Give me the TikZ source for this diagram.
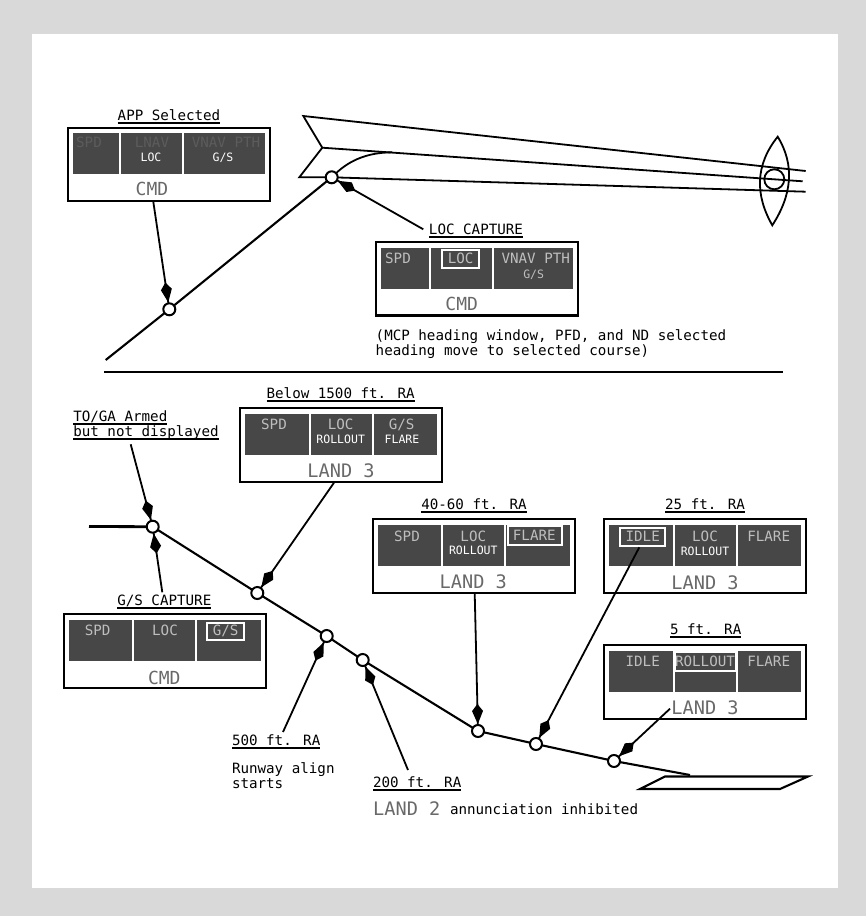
\documentclass[tikz,border=0pt]{standalone}
\usepackage{fontspec}
\setmainfont{DejaVu Sans Mono}
\usetikzlibrary{calc}
\definecolor{pagegray}{HTML}{D9D9D9}
\definecolor{panelgray}{HTML}{474747}
\definecolor{dimtext}{HTML}{5C5C5C}
\definecolor{softtext}{HTML}{BEBEBE}
\definecolor{modegray}{HTML}{696969}
\newcommand\ulbar[1]{\setbox0\hbox{#1}\rlap{\rule[-3.6pt]{\wd0}{1.8pt}}\copy0\relax}
\tikzset{
  x=1pt,y=-1pt,
  txt/.style={inner sep=0pt,outer sep=0pt,text height=10.2pt,text depth=0pt,font=\fontsize{14.2}{15}\selectfont},
  para/.style={inner sep=0pt,outer sep=0pt,anchor=north west,align=left,font=\fontsize{14.2}{15}\selectfont},
  lab/.style={txt,text=black},
  main/.style={txt,text=softtext},
  dimmed/.style={txt,text=dimtext},
  small/.style={inner sep=0pt,text height=8.4pt,text depth=0pt,font=\fontsize{11.5}{13}\selectfont,text=white},
  mode/.style={inner sep=0pt,text height=13.4pt,text depth=0pt,font=\fontsize{18.6}{20}\selectfont,text=modegray},
  outerbox/.style={draw=black,line width=2.2pt,minimum width=202pt,minimum height=73.5pt,inner sep=0pt},
  hilite/.style={draw=white,line width=1.7pt},
  wp/.style={circle,draw=black,fill=white,line width=2pt,minimum size=12pt,inner sep=0pt,outer sep=0pt},
  leader/.style={draw=black,line width=1.8pt},
  path line/.style={draw=black,line width=2.1pt},
  thin line/.style={draw=black,line width=1.8pt}
}
% name, left, top, divider 1, divider 2
\newcommand\fmabox[5]{%
  \node[outerbox] (#1) at ({#2+101},{#3+36.75}) {};
  \fill[panelgray] ({#2+5},{#3+5.5}) rectangle ({#4-1},{#3+46.5});
  \fill[panelgray] ({#4+1},{#3+5.5}) rectangle ({#5-1},{#3+46.5});
  \fill[panelgray] ({#5+1},{#3+5.5}) rectangle ({#2+197},{#3+46.5});
}
% leader from a named start to a waypoint node, with a kite-shaped head touching the waypoint
\newcommand\leaderline[2]{%
  \draw[leader] (#1) -- (#2);
  \coordinate (kw) at ($(#2.center)!20pt!(#1)$);
  \fill[black] ($(#2.center)!7pt!(#1)$) -- ($(kw)!5.5pt!90:(#2.center)$) -- ($(#2.center)!27pt!(#1)$) -- ($(kw)!5.5pt!-90:(#2.center)$) -- cycle;
}
\begin{document}
\begin{tikzpicture}
\useasboundingbox (0,0) rectangle (866,916);
\fill[pagegray] (0,0) rectangle (866,916);
\fill[white] (32,34) rectangle (838,888);

% --- approach geometry ---
\coordinate (wingA) at (303.3,116);
\coordinate (wingB) at (322.3,147.7);
\coordinate (wingC) at (299.3,177.3);
\coordinate (topEnd) at (805.7,171);
\coordinate (midEnd) at (802.7,181.3);
\coordinate (lowEnd) at (805.7,191.7);
\coordinate (curveEnd) at (392,152.3);
\coordinate (appStart) at (105.7,360);
\node[wp] (appPt) at (169.3,309.3) {};
\node[wp] (locPt) at (331.7,177.3) {};
\draw[thin line] (locPt) -- (wingC) -- (wingB) -- (wingA) -- (topEnd);
\draw[thin line] (wingB) -- (midEnd);
\draw[thin line] (locPt) -- (lowEnd);
\draw[thin line] (locPt) .. controls (350,160) and (368,152.5) .. (curveEnd);
\draw[thin line] (777.7,136.7) .. controls (795,165) and (792,195) .. (772.3,225.3)
                 .. controls (755,195) and (755,165) .. cycle;
\node[circle,draw=black,line width=1.8pt,minimum size=20pt,inner sep=0pt] (eye) at (774.3,179.3) {};
\draw[path line] (appStart) -- (appPt) -- (locPt);
\draw[path line] (104.3,372) -- (782.7,372);

% --- APP Selected ---
\node[lab] (lblApp) at (169,115) {\ulbar{APP Selected}};
\fmabox{boxApp}{68}{127.7}{120}{183.3}
\node[dimmed] at (89,142) {SPD};
\node[dimmed] at (152,142) {LNAV};
\node[dimmed] at (226,142) {VNAV PTH};
\node[small] at (151,157) {LOC};
\node[small] at (223,157) {G/S};
\node[mode,font=\fontsize{18}{20}\selectfont] at (152,189) {CMD};

% --- LOC CAPTURE ---
\node[lab] (lblLoc) at (476,229.3) {\ulbar{LOC CAPTURE}};
\fmabox{boxLoc}{375.7}{242}{430}{493}
\node[main] at (398,258) {SPD};
\node[main] at (460.7,258) {LOC};
\draw[hilite] (441.7,249.7) rectangle (479.3,268.3);
\node[main] at (535.7,258) {VNAV PTH};
\node[small,text=softtext] at (533.7,274) {G/S};
\node[mode,font=\fontsize{18}{20}\selectfont] at (461.7,304) {CMD};
\node[para] (note) at (375.7,330)
  {(MCP heading window, PFD, and ND selected\\heading move to selected course)};

% --- lower path ---
\coordinate (glideStart) at (89,526.5);
\coordinate (flareEnd) at (690,775);
\node[wp] (gsPt) at (152.7,526.7) {};
\node[wp] (p1500) at (257.3,593) {};
\node[wp] (p500) at (326.7,636) {};
\node[wp] (p200) at (362.7,660) {};
\node[wp] (p50) at (478,731) {};
\node[wp] (p25) at (536,744) {};
\node[wp] (p5) at (614,761) {};
\draw[draw=black,line width=2.8pt] (glideStart) -- (gsPt);
\draw[path line] (gsPt) -- (p1500) -- (p500) -- (p200) -- (p50) -- (p25) -- (p5) -- (flareEnd);
\draw[draw=black,line width=2.1pt] (640,789) -- (665,776.5) -- (808,776.5) -- (780,789) -- cycle;

% --- TO/GA ---
\node[para] (lblToga) at (73.3,410.5)
  {\ulbar{TO/GA Armed}\\\ulbar{but not displayed}};

% --- Below 1500 ---
\node[lab] (lbl1500) at (340.7,393) {\ulbar{Below 1500 ft. RA}};
\fmabox{box1500}{240}{408.3}{310}{373}
\node[main] at (274,424) {SPD};
\node[main] at (340.7,424) {LOC};
\node[main] at (401.7,424) {G/S};
\node[small] at (340.7,439) {ROLLOUT};
\node[small] at (402,439) {FLARE};
\node[mode] at (341,470.7) {LAND 3};

% --- G/S CAPTURE ---
\node[lab] (lblGs) at (164.3,600.5) {\ulbar{G/S CAPTURE}};
\fmabox{boxGs}{64}{614.3}{132.7}{196}
\node[main] at (97.7,630) {SPD};
\node[main] at (165,630) {LOC};
\node[main] at (225.7,630) {G/S};
\draw[hilite] (206.7,622.7) rectangle (244.3,640);
\node[mode,font=\fontsize{18}{20}\selectfont] at (164.3,677.7) {CMD};

% --- 40-60 ---
\node[lab] (lbl50) at (474,504.3) {\ulbar{40-60 ft. RA}};
\fmabox{box50}{372.7}{519.3}{442}{505}
\node[main] at (407,536) {SPD};
\node[main] at (473.3,536) {LOC};
\node[main] at (534.3,535) {FLARE};
\draw[hilite] (508.3,526) rectangle (561.7,545);
\node[small] at (473.3,550) {ROLLOUT};
\node[mode] at (473.3,582) {LAND 3};

% --- 25 ---
\node[lab] (lbl25) at (705,504.3) {\ulbar{25 ft. RA}};
\fmabox{box25}{604}{519.3}{674}{737}
\node[main] at (642.7,536) {IDLE};
\draw[hilite] (620,527.7) rectangle (665,546);
\node[main] at (705,536) {LOC};
\node[main] at (768.7,536) {FLARE};
\node[small] at (705,551) {ROLLOUT};
\node[mode] at (705,582.3) {LAND 3};

% --- 5 ---
\node[lab] (lbl5) at (705.7,629) {\ulbar{5 ft. RA}};
\fmabox{box5}{604}{645.3}{674}{737}
\node[main] at (642.7,661) {IDLE};
\node[main] at (705,661) {ROLLOUT};
\draw[hilite] (675,651.7) rectangle (736,671);
\node[main] at (768.7,661) {FLARE};
\node[mode] (land5) at (705,707.3) {LAND 3};

% --- free-standing labels ---
\node[lab,anchor=west] (lbl500) at (232,740) {\ulbar{500 ft. RA}};
\node[para] (runway) at (232,763) {Runway align\\starts};
\node[lab,anchor=west] (lbl200) at (373,782) {\ulbar{200 ft. RA}};
\node[mode,anchor=west] (land2) at (373,809) {LAND 2};
\node[lab,anchor=west] (inhib) at (450,809) {annunciation inhibited};

% --- leaders ---
\coordinate (fromApp) at (153.3,201.7);
\coordinate (fromLoc) at (423.3,229.3);
\coordinate (from1500) at (334,482.7);
\coordinate (fromToga) at (130.7,444.3);
\coordinate (fromGs) at (162.3,592.3);
\coordinate (from500) at (283,732);
\coordinate (from200) at (408,770);
\coordinate (from50) at (474.7,593);
\coordinate (from25) at (639.3,547.3);
\coordinate (from5) at (670,708.7);
\leaderline{fromApp}{appPt}
\leaderline{fromLoc}{locPt}
\leaderline{from1500}{p1500}
\leaderline{fromToga}{gsPt}
\leaderline{fromGs}{gsPt}
\leaderline{from500}{p500}
\leaderline{from200}{p200}
\leaderline{from50}{p50}
\leaderline{from25}{p25}
\leaderline{from5}{p5}
\end{tikzpicture}
\end{document}
